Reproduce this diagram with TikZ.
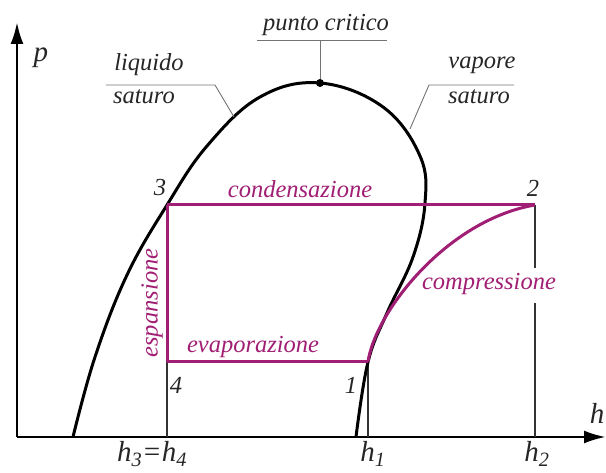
\documentclass[tikz,border=0pt]{standalone}
\usepackage{fontspec}
\setmainfont{Liberation Serif}
\usetikzlibrary{arrows.meta}
\definecolor{ciclo}{RGB}{160,30,115}
\newcommand{\hsub}[1]{\textit{h}\textsubscript{\textit{#1}}}
\begin{document}
\begin{tikzpicture}[x=1pt,y=1pt]

\tikzstyle{etic} = [inner sep=0pt, outer sep=0pt, font=\fontsize{24.5}{26}\selectfont\itshape, text=black!85];
\tikzstyle{etciclo} = [etic, text=ciclo];
\tikzstyle{etasse} = [inner sep=0pt, outer sep=0pt, font=\fontsize{29}{31}\selectfont\itshape, text=black!85];
\tikzstyle{asse} = [line width=2.8pt, -{Latex[length=22pt,width=13pt]}];
\tikzstyle{curva} = [line width=3pt, black];
\tikzstyle{trasf} = [line width=3pt, ciclo];
\tikzstyle{guida} = [line width=1.2pt, black!80];
\tikzstyle{richiamo} = [line width=0.9pt, black!55];

\useasboundingbox (-17,-36) rectangle (589,437);

% assi
\coordinate (o) at (0,0);
\coordinate (ay) at (0,415);
\coordinate (ax) at (589,0);
\path (o) edge[asse] (ay);
\path (o) edge[asse] (ax);
\node[etasse] at (24,379) (lp) {p};
\node[etasse] at (580,24) (lh) {h};

% punti del ciclo
\coordinate (p1) at (351,75);
\coordinate (p2) at (518,232);
\coordinate (p3) at (150,232);
\coordinate (p4) at (150,75);
\coordinate (h1) at (351,0);
\coordinate (h2) at (518,0);
\coordinate (h34) at (150,0);
\coordinate (g1) at (518,169);
\coordinate (g2) at (518,134);

\path (p4) edge[guida] (h34);
\path (p1) edge[guida] (h1);
\path (p2) edge[guida] (g1);
\path (g2) edge[guida] (h2);

% curva limite
\node[circle, fill=black, inner sep=0pt, minimum size=8pt] at (303,354) (pc) {};
\draw[curva] plot[smooth, tension=0.65] coordinates {(56,0) (78,80) (110,162) (p3) (190,291) (243,340) (pc) (366,330) (403,281) (408,234) (396,180) (370,124) (p1) (339,0)};

% ciclo
\path (p3) edge[trasf] (p2);
\path (p4) edge[trasf] (p3);
\path (p4) edge[trasf] (p1);
\draw[trasf] (p1) .. controls (358,125) and (430,217) .. (p2);

% etichette
\node[etic] at (309,412) (lpc) {punto critico};
\coordinate (pc1) at (240,397);
\coordinate (pc2) at (370,397);
\coordinate (pc3) at (303,397);
\path (pc1) edge[richiamo] (pc2);
\path (pc3) edge[richiamo] (pc);

\node[etic] at (132,372) (ll1) {liquido};
\node[etic] at (127,340) (ll2) {saturo};
\coordinate (ls1) at (89,352);
\coordinate (ls2) at (198,352);
\coordinate (ls3) at (217,320);
\draw[richiamo] (ls1) -- (ls2) -- (ls3);

\node[etic] at (465,372) (lv1) {vapore};
\node[etic] at (462,340) (lv2) {saturo};
\coordinate (vs1) at (497,352);
\coordinate (vs2) at (412,352);
\coordinate (vs3) at (393,308);
\draw[richiamo] (vs1) -- (vs2) -- (vs3);

\node[etic] at (143,249) (n3) {3};
\node[etic] at (516,249) (n2) {2};
\node[etic] at (159,52) (n4) {4};
\node[etic] at (334,52) (n1) {1};

\node[etciclo] at (283,248) (lcond) {condensazione};
\node[etciclo, rotate=90] at (135,134) (lesp) {espansione};
\node[etciclo] at (236,90) (levap) {evaporazione};
\node[etciclo] at (472,153) (lcomp) {compressione};

\node[etasse, anchor=base] at (135,-25) (lh34) {\hsub{3}=\hsub{4}};
\node[etasse, anchor=base] at (356,-25) (lh1) {\hsub{1}};
\node[etasse, anchor=base] at (520,-25) (lh2) {\hsub{2}};

\end{tikzpicture}
\end{document}
